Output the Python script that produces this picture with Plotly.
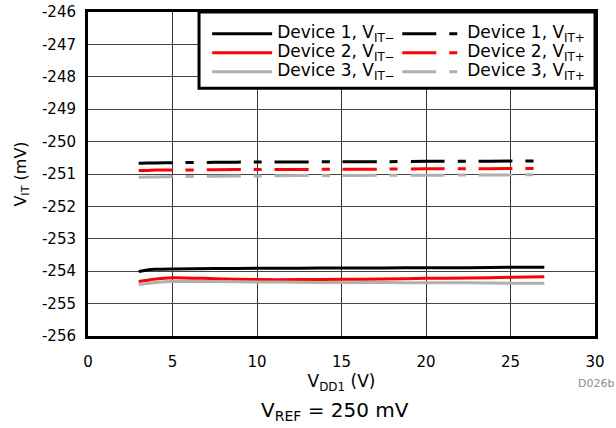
import plotly.graph_objects as go

# ---- data ----
vdd1 = [3, 3.5, 4, 5, 7.5, 10, 12.5, 15, 17.5, 20, 22.5, 25, 27]

dev1_vit_minus = [-254.01, -253.96, -253.94, -253.93, -253.92, -253.91, -253.91,
                  -253.90, -253.90, -253.89, -253.89, -253.88, -253.88]
dev2_vit_minus = [-254.32, -254.28, -254.24, -254.20, -254.23, -254.26, -254.26,
                  -254.25, -254.24, -254.22, -254.21, -254.19, -254.17]
dev3_vit_minus = [-254.41, -254.38, -254.35, -254.32, -254.32, -254.33, -254.34,
                  -254.35, -254.35, -254.36, -254.36, -254.37, -254.37]

dev1_vit_plus = [-250.67, -250.66, -250.66, -250.65, -250.64, -250.63, -250.63,
                 -250.62, -250.62, -250.61, -250.61, -250.60, -250.60]
dev2_vit_plus = [-250.89, -250.89, -250.88, -250.88, -250.87, -250.86, -250.86,
                 -250.85, -250.85, -250.84, -250.84, -250.83, -250.83]
dev3_vit_plus = [-251.10, -251.09, -251.09, -251.08, -251.07, -251.06, -251.05,
                 -251.05, -251.04, -251.04, -251.03, -251.03, -251.02]

y_tick_vals = [-256, -255, -254, -253, -252, -251, -250, -249, -248, -247, -246]
y_tick_text = ["-256", "-255", "-254", "-253", "-252", "-251", "-250",
               "-249", "-248", "-247", "-246"]
x_tick_vals = [0, 5, 10, 15, 20, 25, 30]
x_tick_text = ["0", "5", "10", "15", "20", "25", "30"]

FONT = "DejaVu Sans"
BLACK = "#000000"
RED = "#ff0000"
GRAY = "#b0b0b0"
DASH = "34px,13px,8px,13px"


def lbl(dev, sign):
    return ('<span style="font-size:17px">Device %d, V<sub>IT%s</sub></span>'
            % (dev, sign))


fig = go.Figure()
series = [
    (dev1_vit_minus, BLACK, "solid", lbl(1, "\u2212"), "legend"),
    (dev2_vit_minus, RED, "solid", lbl(2, "\u2212"), "legend"),
    (dev3_vit_minus, GRAY, "solid", lbl(3, "\u2212"), "legend"),
    (dev1_vit_plus, BLACK, DASH, lbl(1, "+"), "legend2"),
    (dev2_vit_plus, RED, DASH, lbl(2, "+"), "legend2"),
    (dev3_vit_plus, GRAY, DASH, lbl(3, "+"), "legend2"),
]
for yv, col, dash, name, lg in series:
    fig.add_trace(go.Scatter(
        x=vdd1, y=yv, mode="lines", name=name, legend=lg,
        line=dict(color=col, width=3, dash=dash, shape="spline", smoothing=0.6),
    ))

# legend box
fig.add_shape(type="rect", xref="paper", yref="paper",
              x0=0.219, x1=1.0, y0=0.765, y1=1.0,
              line=dict(color=BLACK, width=3), fillcolor="white", layer="above")

legend_common = dict(
    font=dict(family=FONT, size=12, color=BLACK),
    bgcolor="rgba(0,0,0,0)", borderwidth=0,
    itemwidth=60, traceorder="normal",
    xanchor="left", yanchor="top", orientation="v",
    itemclick=False, itemdoubleclick=False,
)

fig.update_layout(
    width=616, height=428,
    margin=dict(l=88, r=21, t=12, b=92, autoexpand=False),
    paper_bgcolor="white", plot_bgcolor="white",
    font=dict(family=FONT, size=15, color=BLACK),
    showlegend=True,
    legend=dict(x=0.235, y=0.978, **legend_common),
    legend2=dict(x=0.610, y=0.978, **legend_common),
    xaxis=dict(
        range=[0, 30], tickvals=x_tick_vals, ticktext=x_tick_text,
        showgrid=True, gridcolor="#333333", gridwidth=1,
        showline=True, linecolor=BLACK, linewidth=3, mirror=True,
        ticks="", ticklabelstandoff=10, zeroline=False, automargin=False,
        tickfont=dict(family=FONT, size=15, color=BLACK),
        title=dict(text="V<sub>DD1</sub> (V)", standoff=0,
                   font=dict(family=FONT, size=17, color=BLACK)),
    ),
    yaxis=dict(
        range=[-256, -246], tickvals=y_tick_vals, ticktext=y_tick_text,
        showgrid=True, gridcolor="#444444", gridwidth=1,
        showline=True, linecolor=BLACK, linewidth=3, mirror=True,
        ticks="", ticklabelstandoff=6, zeroline=False, automargin=False,
        tickfont=dict(family=FONT, size=15, color=BLACK),
        title=dict(text="V<sub>IT</sub> (mV)", standoff=12,
                   font=dict(family=FONT, size=16, color=BLACK)),
    ),
    annotations=[
        dict(text="V<sub>REF</sub> = 250 mV", xref="paper", yref="paper",
             x=0.487, y=-0.232, xanchor="center", yanchor="middle",
             showarrow=False, font=dict(family=FONT, size=20, color=BLACK)),
        dict(text="D026b", xref="paper", yref="paper",
             x=1.041, y=-0.148, xanchor="right", yanchor="middle",
             showarrow=False, font=dict(family=FONT, size=11, color="#8c8c8c")),
    ],
)

fig.write_html(
    "out.html",
    config={"displayModeBar": False},
    post_script="document.body.style.margin='0';document.body.style.overflow='hidden';",
)
